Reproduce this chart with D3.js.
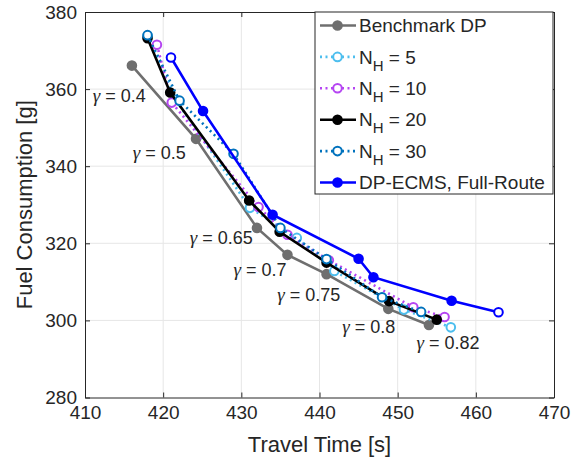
<!DOCTYPE html>
<html>
<head>
<meta charset="utf-8">
<script src="https://cdn.jsdelivr.net/npm/d3@7"></script>
<style>
  body { margin: 0; background: #fff; }
  text { font-family: "Liberation Sans", Arial, sans-serif; fill: #262626; }
</style>
</head>
<body>
<div id="chart"></div>
<script>
// Data (travel time [s], fuel consumption [g])
const gammaValues = [0.4, 0.5, 0.65, 0.7, 0.75, 0.8, 0.82];

const benchTime = [416, 424.2, 432, 435.9, 440.9, 448.8, 454];
const benchFuel = [366.1, 347.1, 324, 317, 312, 303, 298.8];

const nh5Time = [418, 421.6, 431.1, 437.1, 441.9, 450.8, 456.8];
const nh5Fuel = [373.8, 357.2, 329.2, 321.4, 312.8, 302.8, 298.2];

const nh10Time = [419.2, 421.1, 432.2, 435.9, 441.2, 452, 456];
const nh10Fuel = [371.5, 356.5, 329.4, 322.2, 315.6, 303.4, 300.9];

const nh20Time = [418, 420.9, 431, 434.9, 440.9, 448.9, 455];
const nh20Fuel = [373.2, 359.1, 331.1, 323, 315, 305, 300.2];

const nh30Time = [418, 422.1, 429, 435, 440.9, 448, 453];
const nh30Fuel = [374, 357, 343.2, 324, 315.9, 306, 302.2];

const ecmsTime = [421, 425.1, 434, 445, 446.9, 456.9, 462.9];
const ecmsFuel = [368.2, 354.3, 327.4, 316, 311.2, 305.1, 302.1];

// gamma annotations, placed in data units (left edge, middle)
const gammaLabelTime = [411, 416.1, 423.4, 429, 434.6, 442.9, 452.4];
const gammaLabelFuel = [358.3, 343.5, 321.5, 313.2, 306.7, 298.4, 294.2];

const xTicks = [410, 420, 430, 440, 450, 460, 470];
const yTicks = [280, 300, 320, 340, 360, 380];

const series = [
  {name: "Benchmark DP", time: benchTime, fuel: benchFuel, color: "#6f6f6f", dash: null, fill: "#6f6f6f"},
  {name: "N_H = 5", time: nh5Time, fuel: nh5Fuel, color: "#4dbeee", dash: "2,3.5", fill: "#fff"},
  {name: "N_H = 10", time: nh10Time, fuel: nh10Fuel, color: "#b545f2", dash: "2,3.5", fill: "#fff"},
  {name: "N_H = 20", time: nh20Time, fuel: nh20Fuel, color: "#000000", dash: null, fill: "#000"},
  {name: "N_H = 30", time: nh30Time, fuel: nh30Fuel, color: "#0072bd", dash: "2,3.5", fill: "#fff"},
  {name: "DP-ECMS, Full-Route", time: ecmsTime, fuel: ecmsFuel, color: "#0000ff", dash: null, fill: "#0000ff"}
];

const W = 583, H = 462;
const margin = {top: 12, right: 29, bottom: 64.5, left: 85};
const width = W - margin.left - margin.right,
      height = H - margin.top - margin.bottom;

const svg = d3.select("#chart")
  .append("svg")
  .attr("width", W)
  .attr("height", H);

const g = svg.append("g")
  .attr("transform", `translate(${margin.left},${margin.top})`);

const x = d3.scaleLinear().domain([410, 470]).range([0, width]);
const y = d3.scaleLinear().domain([280, 380]).range([height, 0]);

// grid
g.append("g").selectAll("line")
  .data(xTicks.slice(1, -1))
  .join("line")
  .attr("x1", d => x(d)).attr("x2", d => x(d))
  .attr("y1", 0).attr("y2", height)
  .attr("stroke", "#e6e6e6").attr("stroke-width", 1);
g.append("g").selectAll("line")
  .data(yTicks.slice(1, -1))
  .join("line")
  .attr("y1", d => y(d)).attr("y2", d => y(d))
  .attr("x1", 0).attr("x2", width)
  .attr("stroke", "#e6e6e6").attr("stroke-width", 1);

// axes (inward ticks, on all four sides like a boxed figure)
const styleAxis = sel => {
  sel.select(".domain").attr("stroke", "#262626").attr("stroke-width", 1);
  sel.selectAll(".tick line").attr("stroke", "#262626");
  sel.selectAll("text").attr("font-size", "19px").attr("fill", "#262626")
    .attr("font-family", "'Liberation Sans', Arial, sans-serif");
};

g.append("g")
  .attr("transform", `translate(0,${height})`)
  .call(d3.axisBottom(x).tickValues(xTicks).tickSizeInner(-5).tickSizeOuter(0).tickPadding(6))
  .call(styleAxis)
  .selectAll("text").attr("dy", "0.8em");
g.append("g")
  .call(d3.axisLeft(y).tickValues(yTicks).tickSizeInner(-5).tickSizeOuter(0).tickPadding(8))
  .call(styleAxis);
g.append("g")
  .call(d3.axisTop(x).tickValues(xTicks).tickSizeInner(-5).tickSizeOuter(0).tickFormat(""))
  .call(styleAxis);
g.append("g")
  .attr("transform", `translate(${width},0)`)
  .call(d3.axisRight(y).tickValues(yTicks).tickSizeInner(-5).tickSizeOuter(0).tickFormat(""))
  .call(styleAxis);

// axis labels
svg.append("text")
  .attr("x", margin.left + width / 2)
  .attr("y", 452)
  .attr("text-anchor", "middle")
  .attr("font-size", "22px")
  .text("Travel Time [s]");
svg.append("text")
  .attr("transform", `translate(32,${margin.top + height / 2}) rotate(-90)`)
  .attr("text-anchor", "middle")
  .attr("font-size", "22px")
  .text("Fuel Consumption [g]");

// gamma labels
const gl = g.append("g").selectAll("text")
  .data(gammaValues)
  .join("text")
  .attr("x", (d, i) => x(gammaLabelTime[i]))
  .attr("y", (d, i) => y(gammaLabelFuel[i]))
  .attr("dy", "0.35em")
  .attr("font-size", "18px");
gl.append("tspan")
  .attr("font-family", "'Liberation Serif', 'Times New Roman', serif")
  .attr("font-style", "italic")
  .attr("font-size", "19px")
  .text("γ");
gl.append("tspan").text(d => " = " + d);

// series lines & markers
const line = d3.line().x(d => x(d[0])).y(d => y(d[1]));
series.forEach((s, k) => {
  const pts = s.time.map((t, i) => [t, s.fuel[i]]);
  const sg = g.append("g");
  sg.append("path")
    .datum(pts)
    .attr("d", line)
    .attr("fill", "none")
    .attr("stroke", s.color)
    .attr("stroke-width", 2.6)
    .attr("stroke-dasharray", s.dash);
  sg.selectAll("circle")
    .data(pts)
    .join("circle")
    .attr("cx", d => x(d[0]))
    .attr("cy", d => y(d[1]))
    .attr("r", 4.3)
    .attr("stroke", s.color)
    .attr("stroke-width", 2)
    // the ECMS ends are drawn open in the reference
    .attr("fill", (d, i) => (k === 5 && (i === 0 || i === pts.length - 1)) ? "#fff" : s.fill);
});

// legend
const lg = svg.append("g").attr("transform", "translate(315,12)");
lg.append("rect")
  .attr("width", 238).attr("height", 182)
  .attr("fill", "#fff").attr("stroke", "#262626").attr("stroke-width", 1);
series.forEach((s, i) => {
  const yy = 13.5 + i * 31.4;
  const row = lg.append("g").attr("transform", `translate(0,${yy})`);
  row.append("line")
    .attr("x1", 5).attr("x2", 41)
    .attr("stroke", s.color).attr("stroke-width", 2.6)
    .attr("stroke-dasharray", s.dash);
  row.append("circle")
    .attr("cx", 22.5).attr("r", 4.3)
    .attr("stroke", s.color).attr("stroke-width", 2).attr("fill", s.fill);
  const t = row.append("text")
    .attr("x", 44).attr("y", 0).attr("dy", "0.35em")
    .attr("font-size", "19px");
  if (s.name.startsWith("N_H")) {
    t.append("tspan").text("N");
    t.append("tspan").attr("font-size", "15px").attr("dy", "7").text("H");
    t.append("tspan").attr("dy", "-7").text(s.name.slice(3));
  } else {
    t.text(s.name);
  }
});
</script>
</body>
</html>
